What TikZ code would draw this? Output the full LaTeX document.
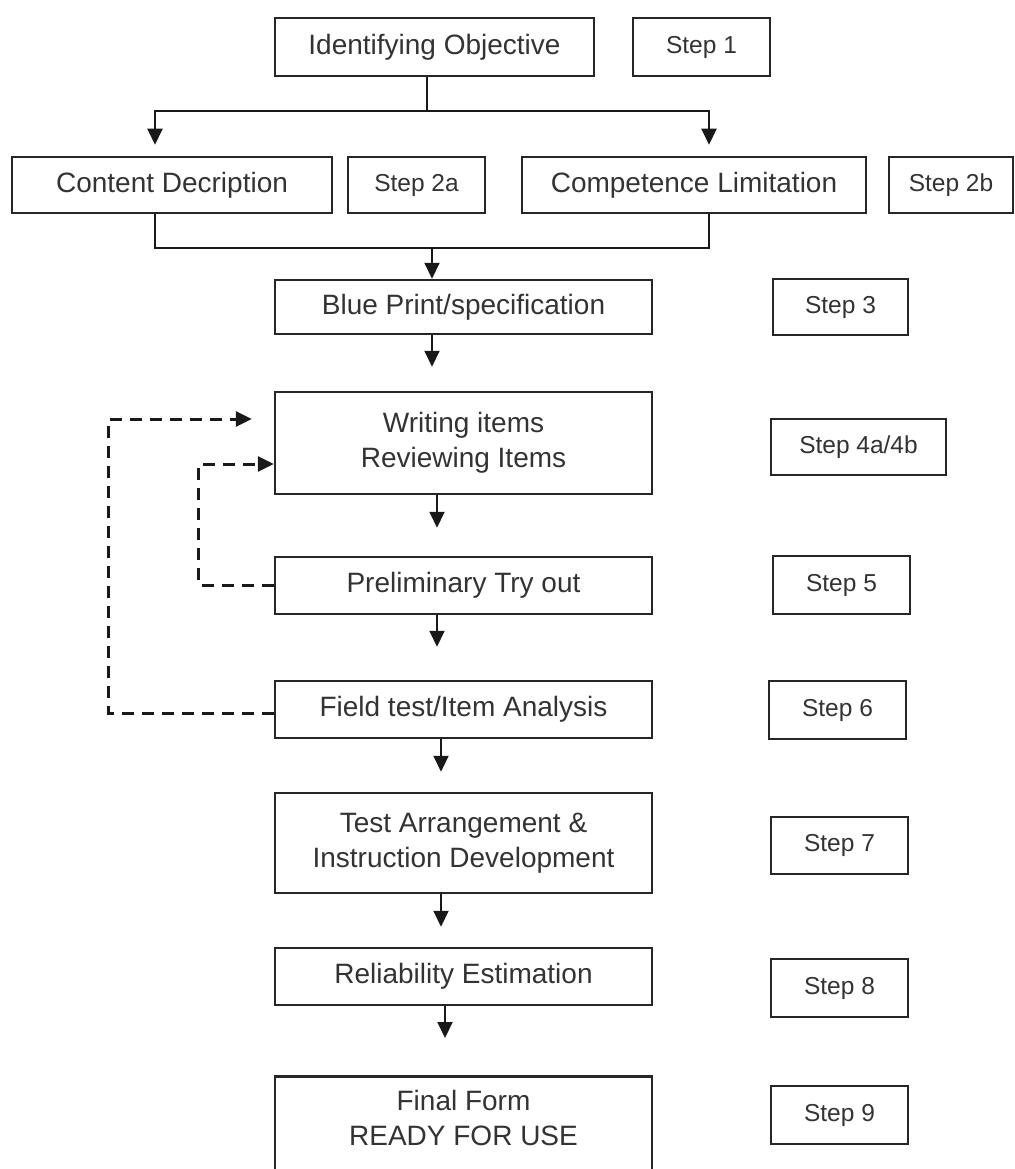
\documentclass[tikz,border=0pt]{standalone}
\usepackage{fontspec}
\setmainfont{Liberation Sans}
\usetikzlibrary{arrows.meta}
\begin{document}
\begin{tikzpicture}[x=1pt,y=1pt,
  box/.style={draw=black!85, line width=2.5pt, inner sep=0pt, align=center,
    text=black!80, font=\fontsize{28}{35}\selectfont},
  stepbox/.style={box, font=\fontsize{24.5}{30}\selectfont},
  arr/.style={line width=2pt, draw=black!90, -{Triangle[length=16pt,width=15pt]}},
  fb/.style={line width=3pt, draw=black!90, dash pattern=on 12pt off 8pt},
  ln/.style={line width=2pt, draw=black!90},
]
\useasboundingbox (0,0) rectangle (1014,-1169);

% main column
\node[box, minimum width=319, minimum height=58] (obj) at (434.5,-47) {Identifying Objective};
\node[box, minimum width=320, minimum height=56] (cont) at (172,-185) {Content Decription};
\node[box, minimum width=344, minimum height=56] (comp) at (694,-185) {Competence Limitation};
\node[box, minimum width=377, minimum height=54] (bp) at (463.5,-307) {Blue Print/specification};
\node[box, minimum width=377, minimum height=102] (write) at (463.5,-443) {Writing items\\Reviewing Items};
\node[box, minimum width=377, minimum height=57] (prelim) at (463.5,-585.5) {Preliminary Try out};
\node[box, minimum width=377, minimum height=57] (field) at (463.5,-709.5) {Field test/Item Analysis};
\node[box, minimum width=377, minimum height=100] (test) at (463.5,-843) {Test Arrangement \&\\Instruction Development};
\node[box, minimum width=377, minimum height=57] (rel) at (463.5,-976.5) {Reliability Estimation};
\node[box, minimum width=377, minimum height=120, anchor=north] (final) at (463.5,-1075) {};
\node[align=center, text=black!80, font=\fontsize{28}{35}\selectfont, inner sep=0pt] (finaltxt) at (463.5,-1117.5) {Final Form\\READY FOR USE};

% step boxes
\node[stepbox, minimum width=137, minimum height=58] (s1) at (701.5,-47) {Step 1};
\node[stepbox, minimum width=137, minimum height=56] (s2a) at (416.5,-185) {Step 2a};
\node[stepbox, minimum width=124, minimum height=56] (s2b) at (951,-185) {Step 2b};
\node[stepbox, minimum width=135, minimum height=56] (s3) at (840.5,-307) {Step 3};
\node[stepbox, minimum width=175, minimum height=56] (s4) at (858.5,-447) {Step 4a/4b};
\node[stepbox, minimum width=137, minimum height=58] (s5) at (841.5,-585) {Step 5};
\node[stepbox, minimum width=137, minimum height=58] (s6) at (837.5,-710) {Step 6};
\node[stepbox, minimum width=137, minimum height=57] (s7) at (839.5,-845.5) {Step 7};
\node[stepbox, minimum width=137, minimum height=58] (s8) at (839.5,-988) {Step 8};
\node[stepbox, minimum width=137, minimum height=58] (s9) at (839.5,-1115) {Step 9};

% split from objective
\coordinate (split) at (427,-111);
\draw[ln] ([xshift=-7.5]obj.south) -- (split);
\draw[arr] (split) -| ([xshift=-17, yshift=11]cont.north);
\draw[arr] (split) -| ([xshift=15, yshift=11]comp.north);

% merge into blueprint
\coordinate (merge) at (432,-248);
\draw[ln] ([xshift=-17]cont.south) |- (merge);
\draw[ln] ([xshift=15]comp.south) |- (merge);
\draw[arr] (merge) -- ([xshift=-31.5]bp.north);

% vertical chain
\draw[arr, shorten >=24pt] ([xshift=-31.5]bp.south) -- ([xshift=-31.5]write.north);
\draw[arr, shorten >=28pt] ([xshift=-26.5]write.south) -- ([xshift=-26.5]prelim.north);
\draw[arr, shorten >=33pt] ([xshift=-26.5]prelim.south) -- ([xshift=-26.5]field.north);
\draw[arr, shorten >=20pt] ([xshift=-22.5]field.south) -- ([xshift=-22.5]test.north);
\draw[arr, shorten >=20pt] ([xshift=-22.5]test.south) -- ([xshift=-22.5]rel.north);
\draw[arr, shorten >=37pt] ([xshift=-18.5]rel.south) -- ([xshift=-18.5]final.north);

% feedback loops
\draw[fb, -{Triangle[length=16pt,width=15pt]}, shorten >=22pt]
  ([yshift=-3.5]field.west) -- ++(-165,0) |- ([yshift=24]write.west);
\draw[fb, -{Triangle[length=16pt,width=15pt]}]
  ([yshift=0.5]prelim.west) -- ++(-75,0) |- ([yshift=-21]write.west);
\end{tikzpicture}
\end{document}
